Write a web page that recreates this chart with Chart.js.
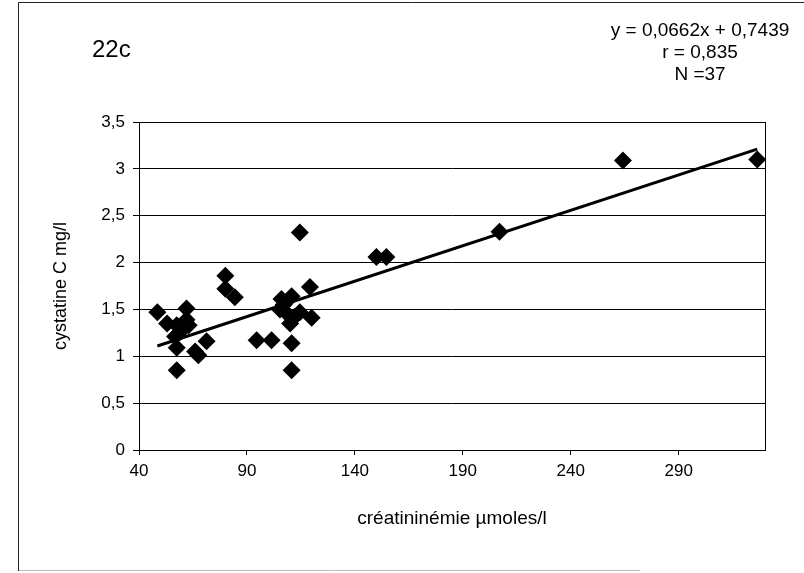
<!DOCTYPE html>
<html>
<head>
<meta charset="utf-8">
<script src="https://cdn.jsdelivr.net/npm/chart.js@4.4.1/dist/chart.umd.min.js"></script>
<style>
  html, body { margin: 0; padding: 0; background: #fff; }
  #wrap { width: 804px; height: 573px; }
</style>
</head>
<body>
<div id="wrap"><canvas id="chart" width="804" height="573"></canvas></div>
<script>
// créatininémie (µmoles/l) vs cystatine C (mg/l)
const creat = [48.5, 62, 53, 57.5, 62, 59, 56.7, 57.5, 57.5, 71.3, 66, 67.5, 80, 80, 84.4, 60, 63,
               114.5, 119.2, 106, 110.7, 105.3, 108.4, 114.5, 120, 110, 94.5, 101.4, 110.7, 110.7, 107, 112,
               150, 154.6, 207, 264.2, 326.4];
const cyst = [1.47, 1.51, 1.35, 1.33, 1.39, 1.26, 1.21, 1.09, 0.85, 1.16, 1.05, 1.01, 1.86, 1.72, 1.63, 1.30, 1.33,
              2.32, 1.74, 1.61, 1.64, 1.50, 1.46, 1.47, 1.41, 1.35, 1.17, 1.17, 1.14, 0.85, 1.55, 1.42,
              2.06, 2.06, 2.33, 3.09, 3.10];

// trend line end points, as drawn
const trendX = [48.5, 326.4];
const trendY = [1.11, 3.21];

const xTicks = [40, 90, 140, 190, 240, 290];
const yTicks = [0, 0.5, 1, 1.5, 2, 2.5, 3, 3.5];

const eqLines = ["y = 0,0662x + 0,7439", "r = 0,835", "N =37"];
const panelLabel = "22c";

const FONT = "'Liberation Sans', Arial, sans-serif";

const decorations = {
    id: 'decorations',
    beforeDraw(chart) {
        const ctx = chart.ctx;
        ctx.save();
        ctx.fillStyle = '#fff';
        ctx.fillRect(0, 0, chart.width, chart.height);
        // outer frame
        ctx.strokeStyle = '#222';
        ctx.lineWidth = 1;
        ctx.beginPath();
        ctx.moveTo(18.5, 571);
        ctx.lineTo(18.5, 2.5);
        ctx.lineTo(804, 2.5);
        ctx.stroke();
        ctx.strokeStyle = '#bbb';
        ctx.beginPath();
        ctx.moveTo(19, 570.5);
        ctx.lineTo(640, 570.5);
        ctx.stroke();
        ctx.restore();
    },
    afterDraw(chart) {
        const ctx = chart.ctx;
        const a = chart.chartArea;
        ctx.save();
        ctx.strokeStyle = '#000';
        ctx.lineWidth = 1;
        ctx.strokeRect(Math.round(a.left) + 0.5, Math.round(a.top) + 0.5,
                       Math.round(a.right - a.left), Math.round(a.bottom - a.top));
        ctx.fillStyle = '#000';
        ctx.textBaseline = 'middle';
        ctx.textAlign = 'left';
        ctx.font = '24px ' + FONT;
        ctx.fillText(panelLabel, 92, 50);
        ctx.textAlign = 'center';
        ctx.font = '19px ' + FONT;
        eqLines.forEach((t, i) => ctx.fillText(t, 700, 31 + i * 22));
        // axis titles
        ctx.font = '19px ' + FONT;
        ctx.fillText('créatininémie µmoles/l', (a.left + a.right) / 2, 519);
        ctx.font = '18px ' + FONT;
        ctx.translate(61, (a.top + a.bottom) / 2);
        ctx.rotate(-Math.PI / 2);
        ctx.fillText('cystatine C mg/l', 0, 0);
        ctx.restore();
    }
};

new Chart(document.getElementById('chart'), {
    type: 'scatter',
    data: {
        datasets: [{
            data: creat.map((x, i) => ({ x: x, y: cyst[i] })),
            pointStyle: 'rectRot',
            pointRadius: 9,
            pointHoverRadius: 9,
            backgroundColor: '#000',
            borderColor: '#000',
            borderWidth: 0,
            clip: false
        }, {
            type: 'line',
            data: trendX.map((x, i) => ({ x: x, y: trendY[i] })),
            borderColor: '#000',
            borderWidth: 3,
            pointRadius: 0,
            fill: false,
            clip: false
        }]
    },
    options: {
        responsive: false,
        animation: false,
        events: [],
        layout: { padding: { top: 122, right: 39, left: 0, bottom: 0 } },
        plugins: {
            legend: { display: false },
            tooltip: { enabled: false }
        },
        scales: {
            x: {
                type: 'linear',
                min: 40,
                max: 330,
                afterBuildTicks: (scale) => { scale.ticks = xTicks.map(v => ({ value: v })); },
                afterFit: (scale) => { scale.height = 123; },
                ticks: {
                    autoSkip: false,
                    maxRotation: 0,
                    color: '#000',
                    padding: 6,
                    font: { family: FONT, size: 17 }
                },
                grid: { drawOnChartArea: false, drawTicks: true, tickLength: 5, color: '#000' },
                border: { color: '#000', width: 1 }
            },
            y: {
                min: 0,
                max: 3.5,
                afterBuildTicks: (scale) => { scale.ticks = yTicks.map(v => ({ value: v })); },
                afterFit: (scale) => { scale.width = 139; },
                ticks: {
                    color: '#000',
                    padding: 8,
                    font: { family: FONT, size: 17 },
                    callback: (v) => String(v).replace('.', ',')
                },
                grid: { color: '#000', lineWidth: 1, tickLength: 6 },
                border: { color: '#000', width: 1 }
            }
        }
    },
    plugins: [decorations]
});
</script>
</body>
</html>
